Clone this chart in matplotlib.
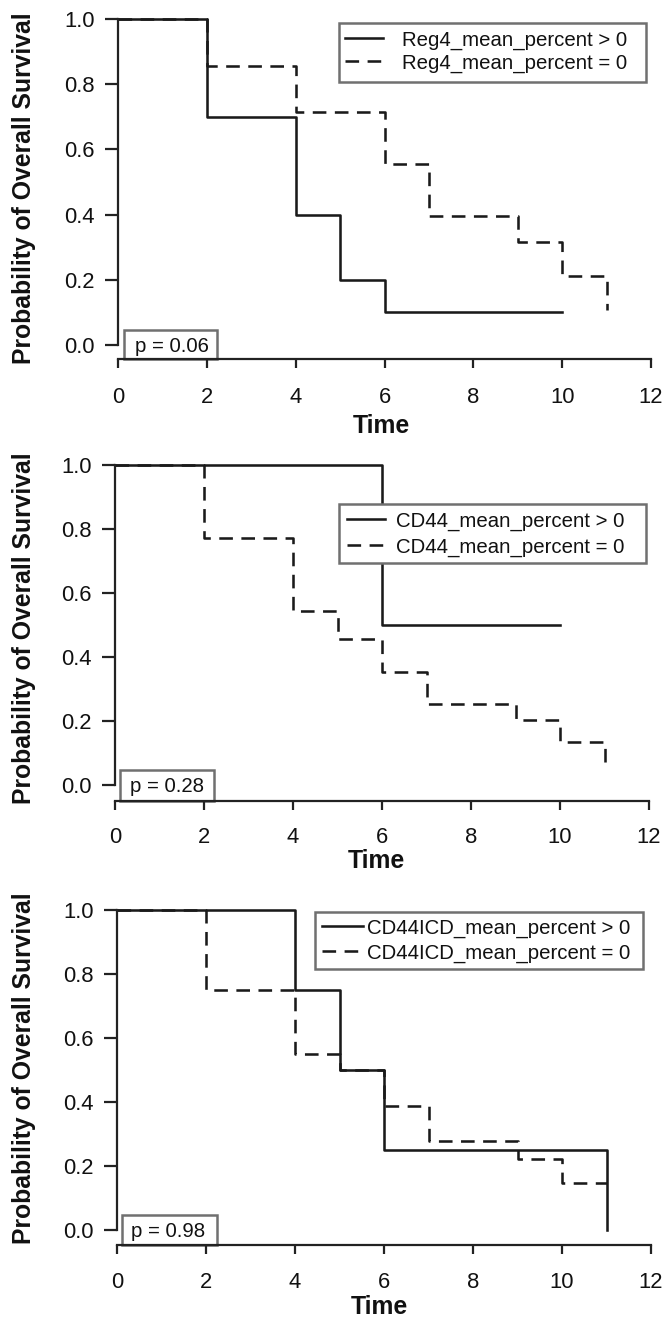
import matplotlib
matplotlib.use("Agg")
import matplotlib.pyplot as plt
from matplotlib.patches import Rectangle

# ---------------- data ----------------
p1_pos_times = [0, 2, 4, 5, 6]
p1_pos_surv = [1.0, 0.70, 0.40, 0.20, 0.10]
p1_pos_end = 10
p1_neg_times = [0, 2, 4, 6, 7, 9, 10, 11]
p1_neg_surv = [1.0, 0.857, 0.714, 0.556, 0.397, 0.317, 0.212, 0.106]
p1_neg_end = 11
p1_labels = ["Reg4_mean_percent > 0", "Reg4_mean_percent = 0"]
p1_pvalue = "p = 0.06"

p2_pos_times = [0, 6]
p2_pos_surv = [1.0, 0.50]
p2_pos_end = 10
p2_neg_times = [0, 2, 4, 5, 6, 7, 9, 10, 11]
p2_neg_surv = [1.0, 0.773, 0.545, 0.455, 0.354, 0.253, 0.202, 0.135, 0.067]
p2_neg_end = 11
p2_labels = ["CD44_mean_percent > 0", "CD44_mean_percent = 0"]
p2_pvalue = "p = 0.28"

p3_pos_times = [0, 4, 5, 6, 11]
p3_pos_surv = [1.0, 0.75, 0.50, 0.25, 0.0]
p3_pos_end = 11
p3_neg_times = [0, 2, 4, 5, 6, 7, 9, 10]
p3_neg_surv = [1.0, 0.75, 0.55, 0.50, 0.389, 0.278, 0.222, 0.148]
p3_neg_end = 11
p3_labels = ["CD44ICD_mean_percent > 0", "CD44ICD_mean_percent = 0"]
p3_pvalue = "p = 0.98"

x_ticks = [0, 2, 4, 6, 8, 10, 12]
y_ticks = [0.0, 0.2, 0.4, 0.6, 0.8, 1.0]
y_ticklabels = ["0.0", "0.2", "0.4", "0.6", "0.8", "1.0"]
x_label = "Time"
y_label = "Probability of Overall Survival"

# ---------------- layout (pixels) ----------------
W, H = 668, 1320
DPI = 100
FONT = ["Liberation Sans", "Arial", "DejaVu Sans"]
plt.rcParams["font.family"] = FONT

def fx(x):
    return x / W

def fy(y):
    return 1 - y / H

layouts = [
    dict(left=118, right=651, y1=19, y0=345, axis=359,
         leg=(339, 23, 646, 82), hl=345, hr=383, tx=402, r1=40, r2=63,
         pbox=(124, 330, 217, 359), ptx=135, pty=352,
         ylab=(24, 188), xlab=(381, 433), xpad=13.5),
    dict(left=115, right=649, y1=465, y0=785, axis=801,
         leg=(339, 504, 646, 563), hl=347, hr=385, tx=396, r1=521, r2=547,
         pbox=(120, 770, 214, 801), ptx=130, pty=792,
         ylab=(24, 628), xlab=(376, 868), xpad=12.5),
    dict(left=117, right=651, y1=910, y0=1230, axis=1245,
         leg=(315, 912, 643, 969), hl=322, hr=363, tx=367, r1=928, r2=953,
         pbox=(122, 1215, 217, 1245), ptx=131, pty=1237,
         ylab=(24, 1068), xlab=(379, 1314), xpad=13.0),
]

panels = [
    (p1_pos_times, p1_pos_surv, p1_pos_end, p1_neg_times, p1_neg_surv, p1_neg_end, p1_labels, p1_pvalue),
    (p2_pos_times, p2_pos_surv, p2_pos_end, p2_neg_times, p2_neg_surv, p2_neg_end, p2_labels, p2_pvalue),
    (p3_pos_times, p3_pos_surv, p3_pos_end, p3_neg_times, p3_neg_surv, p3_neg_end, p3_labels, p3_pvalue),
]

LINE_C = "#1a1a1a"
AX_C = "#222222"
TXT_C = "#111111"
BOX_C = "#707070"
LW = 1.85
AX_LW = 1.6
DASH = (0, (5.3, 3.3))
LEG_FS = 14.7
TICK_FS = 15.8
LAB_FS = 17.8


def km_xy(times, surv, end):
    xs = list(times)
    ys = list(surv)
    if end is not None and end > xs[-1]:
        xs.append(end)
        ys.append(ys[-1])
    return xs, ys


fig = plt.figure(figsize=(W / DPI, H / DPI), dpi=DPI)
fig.patch.set_facecolor("white")

for (pt, ps, pe, nt, ns, ne, labels, ptxt), L in zip(panels, layouts):
    rect = [fx(L["left"]), fy(L["axis"]), (L["right"] - L["left"]) / W,
            (L["axis"] - L["y1"]) / H]
    ax = fig.add_axes(rect)
    ybot = -(L["axis"] - L["y0"]) / (L["y0"] - L["y1"])

    nx, ny = km_xy(nt, ns, ne)
    px_, py_ = km_xy(pt, ps, pe)
    l2, = ax.step(nx, ny, where="post", color=LINE_C, lw=LW, linestyle=DASH,
                  clip_on=False, zorder=2, label=labels[1])
    l1, = ax.step(px_, py_, where="post", color=LINE_C, lw=LW,
                  clip_on=False, zorder=2.1, label=labels[0])

    ax.set_xlim(0, 12)
    ax.set_ylim(ybot, 1.0)
    ax.set_xticks(x_ticks)
    ax.set_xticklabels([str(t) for t in x_ticks])
    ax.set_yticks(y_ticks)
    ax.set_yticklabels(y_ticklabels)

    for s in ("top", "right"):
        ax.spines[s].set_visible(False)
    ax.spines["left"].set_bounds(0, 1)
    ax.spines["bottom"].set_bounds(0, 12)
    for s in ("left", "bottom"):
        ax.spines[s].set_color(AX_C)
        ax.spines[s].set_linewidth(AX_LW)
        ax.spines[s].set_capstyle("projecting")
    ax.tick_params(axis="y", length=9.4, width=AX_LW, color=AX_C, pad=7.2,
                   labelsize=TICK_FS, direction="out", labelcolor=TXT_C)
    ax.tick_params(axis="x", length=6.5, width=AX_LW, color=AX_C, pad=L["xpad"],
                   labelsize=TICK_FS, direction="out", labelcolor=TXT_C)
    ax.patch.set_alpha(0)

    # legend frame (white box with gray border)
    lx0, ly0, lx1, ly1 = L["leg"]
    frame = Rectangle((fx(lx0), fy(ly1)), (lx1 - lx0) / W, (ly1 - ly0) / H,
                      transform=fig.transFigure, facecolor="white",
                      edgecolor=BOX_C, lw=1.8, zorder=4, clip_on=False)
    ax.add_artist(frame)

    fs_px = LEG_FS * DPI / 72.0
    row_gap = L["r2"] - L["r1"]
    text_h = 0.94 * fs_px
    leg = ax.legend(handles=[l1, l2], labels=labels, loc="upper left",
                    bbox_to_anchor=(fx(L["hl"]), fy(L["r1"] - text_h / 2)),
                    bbox_transform=fig.transFigure, frameon=False,
                    fontsize=LEG_FS, borderpad=0, borderaxespad=0,
                    handlelength=(L["hr"] - L["hl"]) / fs_px,
                    handletextpad=(L["tx"] - L["hr"]) / fs_px,
                    labelspacing=(row_gap - text_h) / fs_px)
    leg.set_zorder(5)
    for t in leg.get_texts():
        t.set_color(TXT_C)

    # p-value box
    bx0, by0, bx1, by1 = L["pbox"]
    pbox = Rectangle((fx(bx0), fy(by1)), (bx1 - bx0) / W, (by1 - by0) / H,
                     transform=fig.transFigure, facecolor="white",
                     edgecolor=BOX_C, lw=1.8, zorder=1.5, clip_on=False)
    ax.add_artist(pbox)
    ax.text(fx(L["ptx"]), fy(L["pty"]), ptxt, transform=fig.transFigure,
            ha="left", va="baseline", fontsize=LEG_FS, color=TXT_C,
            zorder=6)

    # axis labels
    fig.text(fx(L["ylab"][0]), fy(L["ylab"][1]), y_label, rotation=90,
             ha="center", va="center", fontsize=LAB_FS, fontweight="bold",
             color=TXT_C)
    fig.text(fx(L["xlab"][0]), fy(L["xlab"][1]), x_label, ha="center",
             va="baseline", fontsize=LAB_FS, fontweight="bold",
             color=TXT_C)

fig.savefig("out.png", dpi=DPI, facecolor="white")
